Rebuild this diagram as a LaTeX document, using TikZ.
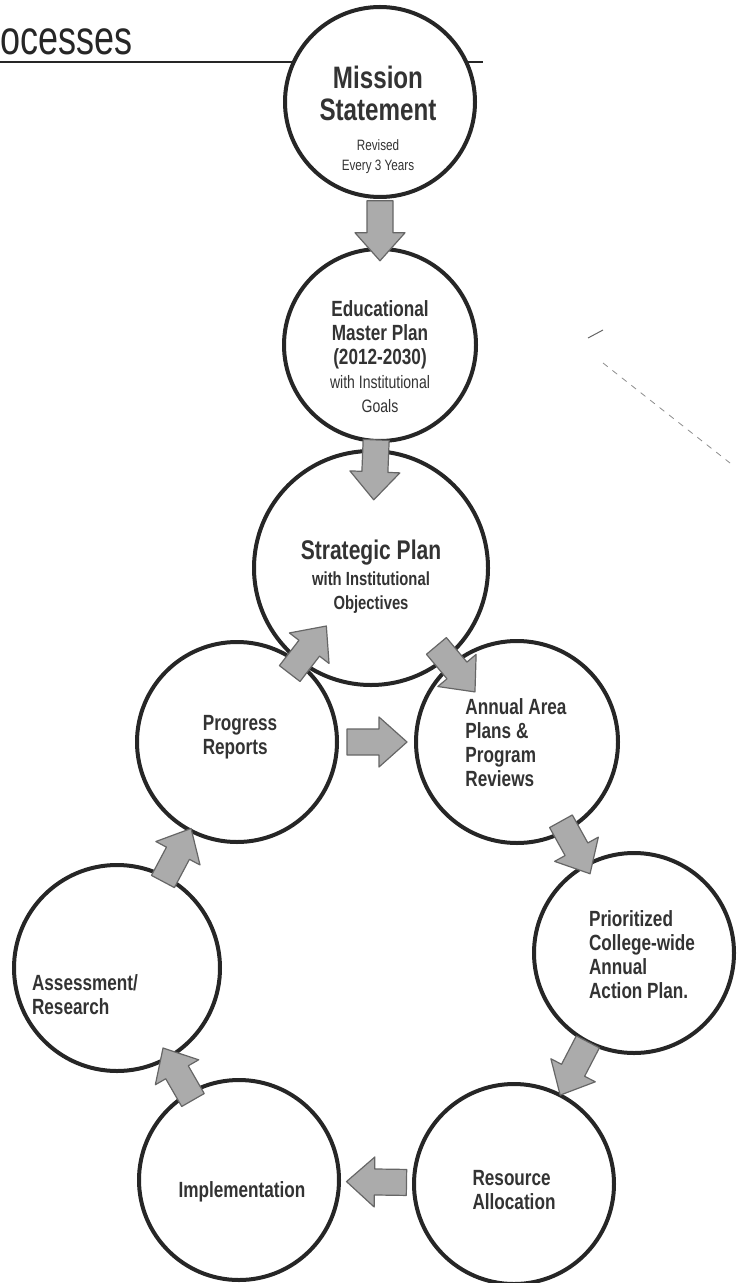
\documentclass[tikz,border=0pt]{standalone}
\usepackage{fontspec}
\setmainfont{Liberation Sans}
\newfontfamily\narrowfont{Liberation Sans}[FakeStretch=0.78]
\newfontfamily\titlefont{Liberation Sans}[FakeStretch=0.75]

\tikzset{
  stage/.style={circle, draw=black!85, line width=2pt, fill=white, inner sep=0pt},
  caption/.style={text=black!80, font=\narrowfont\bfseries\fontsize{11}{12}\selectfont, align=left, inner sep=0pt},
  flow/.style={sloped, allow upside down},
  pics/flowarrow/.style={code={
    \filldraw[draw=black!60, fill=black!33, line width=0.6pt, line join=round]
      (-15pt,-6.5pt) -- (1pt,-6.5pt) -- (1pt,-12.5pt) -- (15pt,0pt)
      -- (1pt,12.5pt) -- (1pt,6.5pt) -- (-15pt,6.5pt) -- cycle;
  }},
}

\begin{document}
\begin{tikzpicture}[x=0.5pt,y=-0.5pt]
  \useasboundingbox (0,0) rectangle (736,1283);
  % heading
  \node[anchor=base west, inner sep=0pt, text=black!85,
    font=\titlefont\fontsize{24}{24}\selectfont] (title) at (0,55) {ocesses};
  \coordinate (rule end) at (483,62);
  \draw[line width=1pt, black!85] (0,62) -- (rule end);
  % faint marks at the right
  \draw[black!45, dashed, line width=0.4pt] (603,363) -- (730,463);
  \draw[black!60, line width=0.5pt] (588,338) -- (603,330);

  % circles
  \node[stage, minimum size=95pt] (mission) at (380,102) {};
  \node[stage, minimum size=96pt] (master) at (380,345) {};
  \node[stage, minimum size=117pt] (strategic) at (371,568) {};
  \node[stage, minimum size=100pt] (progress) at (237,742) {};
  \node[stage, minimum size=101pt] (area) at (517,742) {};
  \node[stage, minimum size=100pt] (action) at (634,953) {};
  \node[stage, minimum size=103pt] (assess) at (117,968) {};
  \node[stage, minimum size=100pt] (implement) at (239,1180) {};
  \node[stage, minimum size=100pt] (resource) at (514,1184) {};

  % arrows
  \path (mission.center) -- (master.center) pic[flow, pos=0.53] (a1) {flowarrow};
  \path (master.center) -- (strategic.center) pic[flow, pos=0.56] (a2) {flowarrow};
  \path (strategic.center) -- (area.center) pic[flow, pos=0.58] (a3) {flowarrow};
  \path (progress.center) -- (strategic.center) pic[flow, pos=0.53] (a4) {flowarrow};
  \path (progress.center) -- (area.center) pic[flow, pos=0.5] (a5) {flowarrow};
  \path (area.center) -- (action.center) pic[flow, pos=0.5] (a6) {flowarrow};
  \path (action.center) -- (resource.center) pic[flow, pos=0.5] (a7) {flowarrow};
  \path (resource.center) -- (implement.center) pic[flow, pos=0.5] (a8) {flowarrow};
  \path (implement.center) -- (assess.center) pic[flow, pos=0.5] (a9) {flowarrow};
  \path (assess.center) -- (progress.center) pic[flow, pos=0.5] (a10) {flowarrow};

  % texts
  \node[caption, align=center, font=\narrowfont\bfseries\fontsize{15.5}{16}\selectfont] (missiontxt) at (378,120)
    {Mission\\Statement\\[-1pt]
     {\mdseries\fontsize{7.5}{9}\selectfont Revised}\\[-6pt]{\mdseries\fontsize{7.5}{9}\selectfont Every 3 Years}};
  \node[caption, align=center] (mastertxt) at (380,357)
    {Educational\\Master Plan\\(2012-2030)\\{\mdseries\fontsize{9}{9}\selectfont with Institutional}\\{\mdseries\fontsize{9}{9}\selectfont Goals}};
  \node[caption, align=center] (strategictxt) at (371,577)
    {{\fontsize{13.5}{14}\selectfont Strategic Plan}\\[1pt]{\fontsize{9.5}{11}\selectfont with Institutional}\\{\fontsize{9.5}{11}\selectfont Objectives}};
  \node[caption] (progresstxt) at (240,737) {Progress\\Reports};
  \node[caption] (areatxt) at (516,743) {Annual Area\\Plans \&\\Program\\Reviews};
  \node[caption] (actiontxt) at (642,955) {Prioritized\\College-wide\\Annual\\Action Plan.};
  \node[caption] (assesstxt) at (85,995) {Assessment/\\Research};
  \node[caption] (implementtxt) at (242,1192) {Implementation};
  \node[caption] (resourcetxt) at (514,1190) {Resource\\Allocation};
\end{tikzpicture}
\end{document}
